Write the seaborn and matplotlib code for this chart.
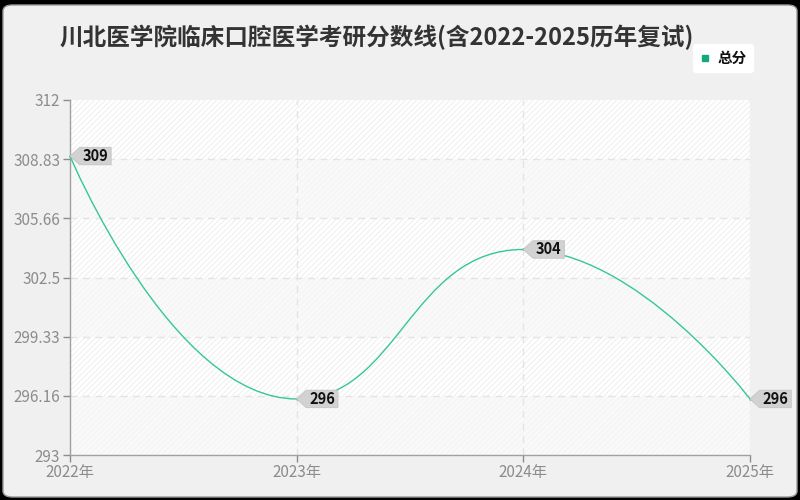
import numpy as np
import matplotlib
matplotlib.use("Agg")
import matplotlib.pyplot as plt
import seaborn as sns
from matplotlib.path import Path
from matplotlib.patches import PathPatch, FancyBboxPatch
from matplotlib.lines import Line2D

# -------------------------------
# Data
# -------------------------------
years = [2022, 2023, 2024, 2025]
year_labels = ["2022年", "2023年", "2024年", "2025年"]
scores = [309, 296, 304, 296]
series_name = "总分"
y_ticks = [293, 296.1667, 299.3333, 302.5, 305.6667, 308.8333, 312]
y_tick_labels = ["293", "296.16", "299.33", "302.5", "305.66", "308.83", "312"]
title = "川北医学院临床口腔医学考研分数线(含2022-2025历年复试)"

LINE_C = "#35c69a"
TICK_C = "#8c8c8c"

sns.set_theme(style="white")
plt.rcParams["font.family"] = ["Noto Sans CJK SC", "DejaVu Sans"]
plt.rcParams["hatch.linewidth"] = 0.6

fig = plt.figure(figsize=(8, 5), dpi=100)
fig.patch.set_facecolor("#000000")

# rounded light panel (behind the axes)
panel = FancyBboxPatch((3 / 800, 3 / 500), 794 / 800, 492 / 500,
                       boxstyle="round,pad=0,rounding_size=0.012",
                       transform=fig.transFigure, fc="#f0f0f0", ec="#9a9a9a",
                       lw=1, zorder=-5)
fig.add_artist(panel)

ax = fig.add_axes([70 / 800, 45 / 500, 680 / 800, 355 / 500])
ax.set_zorder(1)
ax.set_facecolor("white")
ax.set_xlim(years[0], years[-1])
ax.set_ylim(y_ticks[0], y_ticks[-1])

# alternating hatched bands
for i in range(len(y_ticks) - 1):
    top_band = (len(y_ticks) - 2 - i) % 2 == 0
    ax.axhspan(y_ticks[i], y_ticks[i + 1],
               fc="white" if top_band else "#f9f9f9",
               ec="#ececec" if top_band else "#f3f3f3",
               hatch="//////", lw=0, zorder=0)

# grid
for yt in y_ticks[1:-1]:
    ax.axhline(yt, color="#e4e4e4", ls=(0, (5, 4)), lw=1, zorder=1)
for xt in years[1:]:
    ax.axvline(xt, color="#e4e4e4", ls=(0, (5, 4)), lw=1, zorder=1)

ax.set_xticks(years)
ax.set_xticklabels(year_labels)
ax.set_yticks(y_ticks)
ax.set_yticklabels(y_tick_labels)
ax.tick_params(axis="both", colors=TICK_C, labelcolor=TICK_C, labelsize=11,
               length=5, width=1, direction="out", pad=2)
ax.tick_params(axis="x", pad=1.5)
ax.tick_params(axis="both", which="both", bottom=True, left=True)
for side in ["top", "right"]:
    ax.spines[side].set_visible(False)
for side in ["left", "bottom"]:
    ax.spines[side].set_color("#a0a0a0")
    ax.spines[side].set_linewidth(1)


# smooth line (echarts-like bezier with constraint), built in display space
def smooth_path(xs, ys, smooth=0.5):
    pts = ax.transData.transform(np.column_stack([xs, ys]))
    n = len(pts)
    cps_in = [None] * n
    cps_out = [None] * n
    cps_out[0] = pts[0]
    cps_in[-1] = pts[-1]
    for i in range(1, n - 1):
        p, prv, nxt = pts[i], pts[i - 1], pts[i + 1]
        v = (nxt - prv) * smooth
        l0 = np.hypot(*(p - prv))
        l1 = np.hypot(*(nxt - p))
        r = l1 / (l0 + l1)
        nc = p + v * r
        nc = np.minimum(nc, np.maximum(nxt, p))
        nc = np.maximum(nc, np.minimum(nxt, p))
        v = nc - p
        c1 = p - v * l0 / l1
        c1 = np.minimum(c1, np.maximum(prv, p))
        c1 = np.maximum(c1, np.minimum(prv, p))
        v = p - c1
        nc = p + v * l1 / l0
        cps_in[i] = c1
        cps_out[i] = nc
    verts = [pts[0]]
    codes = [Path.MOVETO]
    for i in range(n - 1):
        verts += [cps_out[i], cps_in[i + 1], pts[i + 1]]
        codes += [Path.CURVE4] * 3
    verts = ax.transData.inverted().transform(np.array(verts))
    return Path(verts, codes)


ax.add_patch(PathPatch(smooth_path(years, scores), fc="none", ec=LINE_C,
                       lw=1.0, zorder=3, clip_on=False))
sns.scatterplot(x=years, y=scores, ax=ax, color=LINE_C, s=3, linewidth=0,
                zorder=3, clip_on=False, legend=False)


# pentagon value tags
def tag_box(x0, y0, width, height, mutation_size):
    padx = 0.2 * mutation_size
    pady = 0.05 * mutation_size
    x0 -= padx
    w = width + 2 * padx
    y0 -= pady
    h = height + 2 * pady
    tip = h * 0.55
    verts = [(x0 - tip, y0 + h / 2), (x0, y0 + h), (x0 + w, y0 + h),
             (x0 + w, y0), (x0, y0), (x0 - tip, y0 + h / 2)]
    return Path(verts, closed=True)


for x, y in zip(years, scores):
    ax.annotate(str(y), xy=(x, y), xytext=(9, 0), textcoords="offset points",
                ha="left", va="center", fontsize=10.5, fontweight="bold",
                color="#111111", zorder=5, annotation_clip=False,
                bbox=dict(boxstyle=tag_box, fc="#d2d2d2", ec="#c4c4c4", lw=0.6))

# title
fig.text(377 / 800, 1 - 37 / 500, title, ha="center", va="center",
         fontsize=17, fontweight="bold", color="#333333")

# legend
handle = Line2D([], [], marker="s", ls="none", color="#13a97c", markersize=5)
leg = fig.legend([handle], [series_name], loc="upper right",
                 bbox_to_anchor=(753 / 800, 1 - 44 / 500), frameon=True,
                 prop={"size": 10.5, "weight": "bold"},
                 handlelength=0.8, handletextpad=0.5, borderaxespad=0,
                 borderpad=0.4, fancybox=True)
leg.get_frame().set_facecolor("white")
leg.get_frame().set_edgecolor("white")
leg.get_frame().set_alpha(1)
for t in leg.get_texts():
    t.set_color("#111111")

fig.savefig("out.png", dpi=100, facecolor=fig.get_facecolor())
